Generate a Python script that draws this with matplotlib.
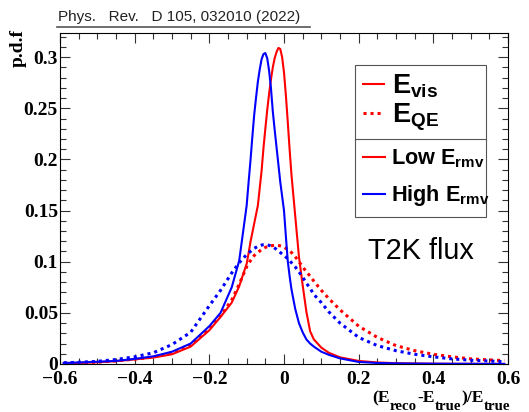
import matplotlib
matplotlib.use('Agg')
import matplotlib.pyplot as plt
from matplotlib.font_manager import FontProperties
from matplotlib.lines import Line2D
from matplotlib.ticker import MultipleLocator

# ---------------- data ----------------
x_vals = [-0.59, -0.55, -0.5, -0.45, -0.4, -0.35, -0.3, -0.25, -0.2, -0.17, -0.14, -0.12,
          -0.10, -0.095, -0.09, -0.085, -0.08, -0.075, -0.07, -0.065, -0.06, -0.055,
          -0.05, -0.045, -0.04, -0.035, -0.03, -0.025, -0.02, -0.015, -0.01, -0.005,
          0.0, 0.005, 0.01, 0.015, 0.02,
          0.03, 0.04, 0.05, 0.06, 0.07, 0.08, 0.1, 0.12, 0.15, 0.2, 0.25, 0.3, 0.35,
          0.4, 0.45, 0.5, 0.55, 0.59]

# E_vis, low E_rmv (red solid)
evis_low = [0.0008, 0.001, 0.0017, 0.0028, 0.0045, 0.0063, 0.0095, 0.017, 0.033, 0.046, 0.060, 0.076,
            0.098, 0.108, 0.119, 0.128, 0.137, 0.146, 0.155, 0.172, 0.189, 0.211,
            0.230, 0.248, 0.264, 0.278, 0.290, 0.299, 0.305, 0.309, 0.308, 0.300,
            0.285, 0.263, 0.237, 0.210, 0.185,
            0.145, 0.105, 0.077, 0.051, 0.032, 0.024, 0.016, 0.011, 0.0065, 0.003, 0.0015, 0.0008, 0.0005,
            0.0003, 0.0002, 0.0002, 0.0001, 0.0001]

# E_vis, high E_rmv (blue solid)
evis_high = [0.001, 0.0015, 0.0022, 0.003, 0.005, 0.0075, 0.012, 0.020, 0.037, 0.050, 0.075, 0.101,
             0.155, 0.177, 0.198, 0.221, 0.243, 0.260, 0.276, 0.288, 0.298, 0.303,
             0.304, 0.299, 0.287, 0.270, 0.247, 0.229, 0.212, 0.195, 0.178, 0.164,
             0.150, 0.125, 0.101, 0.086, 0.073,
             0.054, 0.040, 0.031, 0.024, 0.020, 0.017, 0.012, 0.009, 0.0055, 0.002, 0.001, 0.0006, 0.0004,
             0.0003, 0.0002, 0.0002, 0.0001, 0.0001]

# E_QE, low E_rmv (red dotted)
eqe_low = [0.0008, 0.0012, 0.0018, 0.003, 0.0048, 0.0068, 0.011, 0.019, 0.035, 0.047, 0.0626, 0.078,
           0.095, 0.098, 0.101, 0.1035, 0.106, 0.1075, 0.109, 0.1105, 0.112, 0.113,
           0.114, 0.1147, 0.1152, 0.1156, 0.1158, 0.1159, 0.116, 0.1158, 0.1155, 0.115,
           0.1142, 0.113, 0.112, 0.1105, 0.109,
           0.105, 0.100, 0.095, 0.090, 0.086, 0.081, 0.072, 0.064, 0.053, 0.037, 0.026, 0.018, 0.013,
           0.0095, 0.007, 0.005, 0.004, 0.0033]

# E_QE, high E_rmv (blue dotted)
eqe_high = [0.0012, 0.0017, 0.0026, 0.0044, 0.007, 0.011, 0.019, 0.031, 0.057, 0.072, 0.089, 0.099,
            0.107, 0.1085, 0.110, 0.1115, 0.113, 0.114, 0.115, 0.1157, 0.1163, 0.1166,
            0.1167, 0.1165, 0.116, 0.1153, 0.1145, 0.1133, 0.112, 0.1105, 0.109, 0.1075,
            0.106, 0.1045, 0.103, 0.101, 0.099,
            0.095, 0.090, 0.085, 0.079, 0.074, 0.068, 0.060, 0.051, 0.040, 0.026, 0.018, 0.013, 0.0095,
            0.007, 0.005, 0.0037, 0.0029, 0.0023]

x_ticks = [-0.6, -0.4, -0.2, 0.0, 0.2, 0.4, 0.6]
x_ticklabels = ['\u22120.6', '\u22120.4', '\u22120.2', '0', '0.2', '0.4', '0.6']
y_ticks = [0.0, 0.05, 0.1, 0.15, 0.2, 0.25, 0.3]
y_ticklabels = ['0', '0.05', '0.1', '0.15', '0.2', '0.25', '0.3']

legend_top_labels = [r'E$_{\mathrm{vis}}$', r'E$_{\mathrm{QE}}$']
legend_bot_labels = [r'Low E$_{\mathrm{rmv}}$', r'High E$_{\mathrm{rmv}}$']

# x-axis title pieces: (text, is_subscript)
xtitle_pieces = [('(E', False), ('reco', True), ('-E', False), ('true', True),
                 (')/E', False), ('true', True)]

header_text = 'Phys.   Rev.   D 105, 032010 (2022)'

# ---------------- style ----------------
plt.rcParams['mathtext.fontset'] = 'custom'
plt.rcParams['mathtext.rm'] = 'Liberation Sans:bold'
plt.rcParams['mathtext.it'] = 'Liberation Sans:bold'
plt.rcParams['mathtext.bf'] = 'Liberation Sans:bold'
plt.rcParams['axes.unicode_minus'] = True

RED = '#ff0000'
BLUE = '#0000ff'
DOT = (0, (1.0, 1.3))

W, H = 529, 412
fig = plt.figure(figsize=(W / 100, H / 100), dpi=100)
ax = fig.add_axes([60 / W, 48 / H, 448 / W, 331 / H])

ax.plot(x_vals, evis_low, color=RED, lw=1.5, zorder=3)
ax.plot(x_vals, eqe_low, color=RED, lw=2.2, ls=DOT, zorder=3)
ax.plot(x_vals, evis_high, color=BLUE, lw=1.5, zorder=4)
ax.plot(x_vals, eqe_high, color=BLUE, lw=2.2, ls=DOT, zorder=4)

ax.set_xlim(-0.6, 0.6)
ax.set_ylim(0, 0.3236)

tick_font = FontProperties(family='Liberation Serif', weight='bold', size=14)
ax.set_xticks(x_ticks)
ax.set_xticklabels(x_ticklabels, fontproperties=tick_font)
ax.set_yticks(y_ticks)
ax.set_yticklabels(y_ticklabels, fontproperties=tick_font)
ax.xaxis.set_minor_locator(MultipleLocator(0.05))
ax.yaxis.set_minor_locator(MultipleLocator(0.01))
ax.tick_params(which='both', direction='in', top=True, right=True,
               color='#333333', width=0.8)
ax.tick_params(which='major', length=7.5)
ax.tick_params(which='minor', length=4)
ax.tick_params(axis='x', which='major', pad=5)
ax.tick_params(axis='y', which='major', pad=1.5)
for s in ax.spines.values():
    s.set_linewidth(0.8)
    s.set_color('black')

# y title
ax.set_ylabel('p.d.f', fontfamily='Liberation Serif', fontweight='bold',
              fontsize=14, loc='top')
ax.yaxis.set_label_coords(-0.074, 1.012)

# legends
leg_font1 = FontProperties(family='Liberation Sans', weight='bold', size=19.5)
leg_font2 = FontProperties(family='Liberation Sans', weight='bold', size=15.6)
h1 = [Line2D([], [], color=RED, lw=1.5), Line2D([], [], color=RED, lw=2.2, ls=DOT)]
h2 = [Line2D([], [], color=RED, lw=1.5), Line2D([], [], color=BLUE, lw=1.5)]
leg1 = ax.legend(h1, legend_top_labels, loc='upper left',
                 bbox_to_anchor=(0.6585, 0.6798, 0.2917, 0.2235), mode='expand',
                 borderaxespad=0, prop=leg_font1, handlelength=0.8,
                 handletextpad=0.3, borderpad=0.28, labelspacing=0.05,
                 fancybox=False, edgecolor='#555555', framealpha=1)
leg1.get_frame().set_linewidth(0.8)
ax.add_artist(leg1)
leg2 = ax.legend(h2, legend_bot_labels, loc='upper left',
                 bbox_to_anchor=(0.6585, 0.447, 0.2917, 0.2326), mode='expand',
                 borderaxespad=0, prop=leg_font2, handlelength=1.0,
                 handletextpad=0.3, borderpad=0.38, labelspacing=0.62,
                 fancybox=False, edgecolor='#555555', framealpha=1)
leg2.get_frame().set_linewidth(0.8)

ax.text(0.6875, 0.316, 'T2K flux', transform=ax.transAxes, fontsize=20.8,
        fontfamily='Liberation Sans', ha='left', va='baseline')

# header
fig.text(58 / W, 1 - 21.0 / H, header_text, fontfamily='Liberation Sans',
         fontsize=11, color='#222222', va='baseline', ha='left')
fig.add_artist(Line2D([57 / W, 310 / W], [1 - 26.7 / H] * 2,
                      transform=fig.transFigure, color='#555555', lw=1.2))

# x title built from pieces (ROOT-style large subscripts), right-aligned
main_font = FontProperties(family='Liberation Serif', weight='bold', size=12.6)
sub_font = FontProperties(family='Liberation Serif', weight='bold', size=10.7)
renderer = fig.canvas.get_renderer()
pieces = []
for txt, is_sub in xtitle_pieces:
    t = fig.text(0, 0, txt, fontproperties=sub_font if is_sub else main_font,
                 va='baseline', ha='left')
    pieces.append((t, is_sub))
widths = [t.get_window_extent(renderer).width for t, _ in pieces]
xpos = 510 - sum(widths)
for (t, is_sub), w in zip(pieces, widths):
    base = 409.5 if is_sub else 402.5
    t.set_position((xpos / W, 1 - base / H))
    xpos += w

fig.savefig('out.png', dpi=100)
